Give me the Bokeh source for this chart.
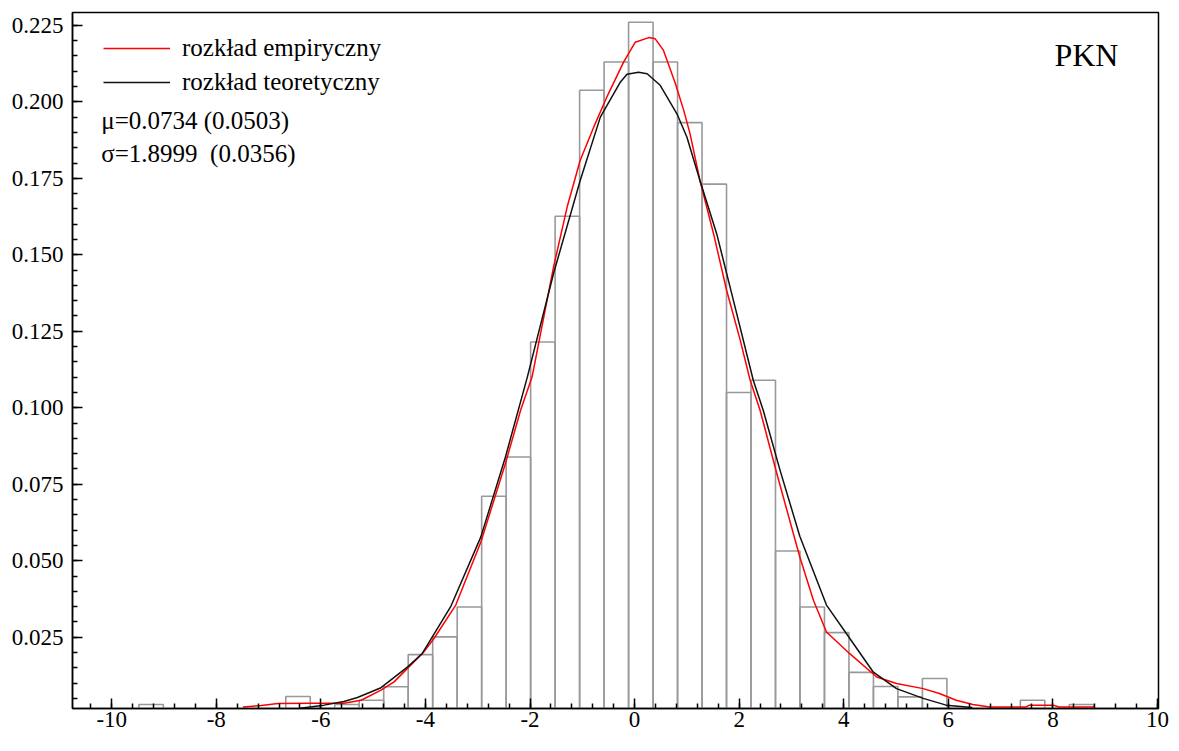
from bokeh.plotting import figure
from bokeh.models import (Range1d, FixedTicker, Legend, LegendItem, Label,
                          ColumnDataSource, PrintfTickFormatter)
from bokeh.embed import file_html
from bokeh.resources import INLINE

# ---- data ----
bin_start = -9.481
bin_width = 0.4683
bar_heights = [0.0030, 0.0, 0.0, 0.0, 0.0, 0.0015, 0.0056, 0.0015, 0.0030, 0.0044,
               0.0088, 0.0193, 0.0251, 0.0349, 0.0711, 0.0839, 0.1215, 0.1626, 0.2038, 0.2130,
               0.2260, 0.2130, 0.1932, 0.1731, 0.1050, 0.1090, 0.0532, 0.0349, 0.0265, 0.0135,
               0.0089, 0.0055, 0.0115, 0.0015, 0.0015, 0.0015, 0.0044, 0.0, 0.0030]

emp_x = [-7.49, -7.14, -6.82, -6.2, -5.56, -5.23, -4.85, -4.6, -4.03, -3.84, -3.42, -2.94,
         -2.47, -2.18, -1.96, -1.55, -1.29, -1.04, -0.78, -0.53, -0.21, 0.013, 0.27, 0.395,
         0.553, 0.78, 0.94, 1.06, 1.25, 1.51, 1.76, 2.02, 2.21, 2.4, 2.72, 3.16, 3.42, 3.67,
         4.11, 4.63, 5.01, 5.52, 5.83, 6.15, 6.47, 6.79, 7.49, 7.55, 8.0, 8.12, 8.79]
emp_y = [0.0022, 0.0027, 0.0033, 0.0034, 0.0034, 0.0044, 0.0077, 0.0104, 0.0202, 0.0245,
         0.0355, 0.0561, 0.0818, 0.0992, 0.1101, 0.146, 0.1656, 0.1809, 0.1918, 0.2016,
         0.213, 0.2195, 0.221, 0.2206, 0.2168, 0.206, 0.1972, 0.1896, 0.1743, 0.1569, 0.1384,
         0.1221, 0.109, 0.0992, 0.0785, 0.0512, 0.0371, 0.0267, 0.0197, 0.012, 0.0099, 0.0082,
         0.0066, 0.0044, 0.003, 0.0022, 0.0022, 0.0028, 0.0028, 0.0022, 0.0022]

theo_x = [-6.4, -5.94, -5.56, -5.3, -4.85, -4.34, -4.06, -3.52, -2.94, -2.47, -2.05, -1.55,
          -1.04, -0.655, -0.27, -0.145, 0.076, 0.24, 0.49, 0.81, 1.0, 1.25, 1.57, 1.89, 2.27,
          2.46, 2.78, 3.16, 3.67, 4.12, 4.56, 5.01, 5.52, 5.96, 6.46]
theo_y = [0.0018, 0.0028, 0.0040, 0.0053, 0.0085, 0.0153, 0.0197, 0.0349, 0.0578, 0.0839,
          0.1101, 0.1439, 0.1743, 0.195, 0.2065, 0.209, 0.2097, 0.2092, 0.2054, 0.1961,
          0.1885, 0.1743, 0.1569, 0.1351, 0.109, 0.0992, 0.0797, 0.058, 0.0355, 0.0245,
          0.0137, 0.0082, 0.005, 0.0028, 0.002]

x_ticks = [-10, -8, -6, -4, -2, 0, 2, 4, 6, 8, 10]
x_tick_labels = ["-10", "-8", "-6", "-4", "-2", "0", "2", "4", "6", "8", "10"]
y_ticks = [0.025, 0.050, 0.075, 0.100, 0.125, 0.150, 0.175, 0.200, 0.225]

label_emp = "rozkład empiryczny"
label_theo = "rozkład teoretyczny"
text_mu = "μ=0.0734 (0.0503)"
text_sigma = "σ=1.8999\u00a0 (0.0356)"
text_ticker = "PKN"

# ---- figure ----
FONT = "Liberation Serif"
p = figure(width=1171, height=743, output_backend="svg", toolbar_location=None,
           x_range=Range1d(-10.75, 10.02), y_range=Range1d(0.0017, 0.2292),
           min_border_left=72, min_border_right=13, min_border_top=12, min_border_bottom=35)
p.grid.visible = False
p.outline_line_color = "black"
p.outline_line_width = 1.5
p.background_fill_color = "white"

left = [bin_start + i * bin_width for i in range(len(bar_heights))]
right = [l + bin_width for l in left]
src = ColumnDataSource(dict(left=left, right=right, top=bar_heights,
                            bottom=[0.0] * len(bar_heights)))
p.quad(left="left", right="right", top="top", bottom="bottom", source=src,
       fill_color=None, line_color="#999999", line_width=1.6)

r_emp = p.line(emp_x, emp_y, line_color="#ff0000", line_width=1.5)
r_theo = p.line(theo_x, theo_y, line_color="#111111", line_width=1.5)

# axes
p.xaxis.ticker = FixedTicker(ticks=x_ticks,
                             minor_ticks=[round(-10.4 + 0.4 * i, 1) for i in range(53)])
p.xaxis.major_label_overrides = {t: s for t, s in zip(x_ticks, x_tick_labels)}
p.yaxis.ticker = FixedTicker(ticks=y_ticks,
                             minor_ticks=[round(0.005 * i, 3) for i in range(1, 46)])
p.yaxis.formatter = PrintfTickFormatter(format="%.3f")
for ax in (p.xaxis[0], p.yaxis[0]):
    ax.major_tick_in = 10
    ax.major_tick_out = 0
    ax.minor_tick_in = 5
    ax.minor_tick_out = 0
    ax.major_tick_line_width = 1.5
    ax.minor_tick_line_width = 1.5
    ax.major_tick_line_color = "black"
    ax.minor_tick_line_color = "black"
    ax.axis_line_width = 1.5
    ax.axis_line_color = "black"
    ax.major_label_text_font = FONT
    ax.major_label_text_font_size = "23px"
    ax.major_label_text_color = "black"
p.xaxis.major_label_standoff = 3
p.yaxis.major_label_standoff = 9

# legend
legend = Legend(items=[LegendItem(label=label_emp, renderers=[r_emp]),
                       LegendItem(label=label_theo, renderers=[r_theo])],
                location=(31, 609), padding=0, margin=0, spacing=0,
                glyph_width=67, glyph_height=34, label_height=34, label_standoff=12,
                label_text_font=FONT, label_text_font_size="25px",
                label_text_color="black",
                border_line_alpha=0, background_fill_alpha=0)
p.add_layout(legend)

p.add_layout(Label(x=-10.2, y=0.194, text=text_mu, text_font=FONT, text_font_size="25px",
                   text_baseline="middle", text_align="left", text_color="black"))
p.add_layout(Label(x=-10.2, y=0.1832, text=text_sigma, text_font=FONT, text_font_size="25px",
                   text_baseline="middle", text_align="left", text_color="black"))
p.add_layout(Label(x=8.03, y=0.2152, text=text_ticker, text_font=FONT, text_font_size="32px",
                   text_baseline="middle", text_align="left", text_color="black"))

open("out.html", "w").write(file_html(p, INLINE))
